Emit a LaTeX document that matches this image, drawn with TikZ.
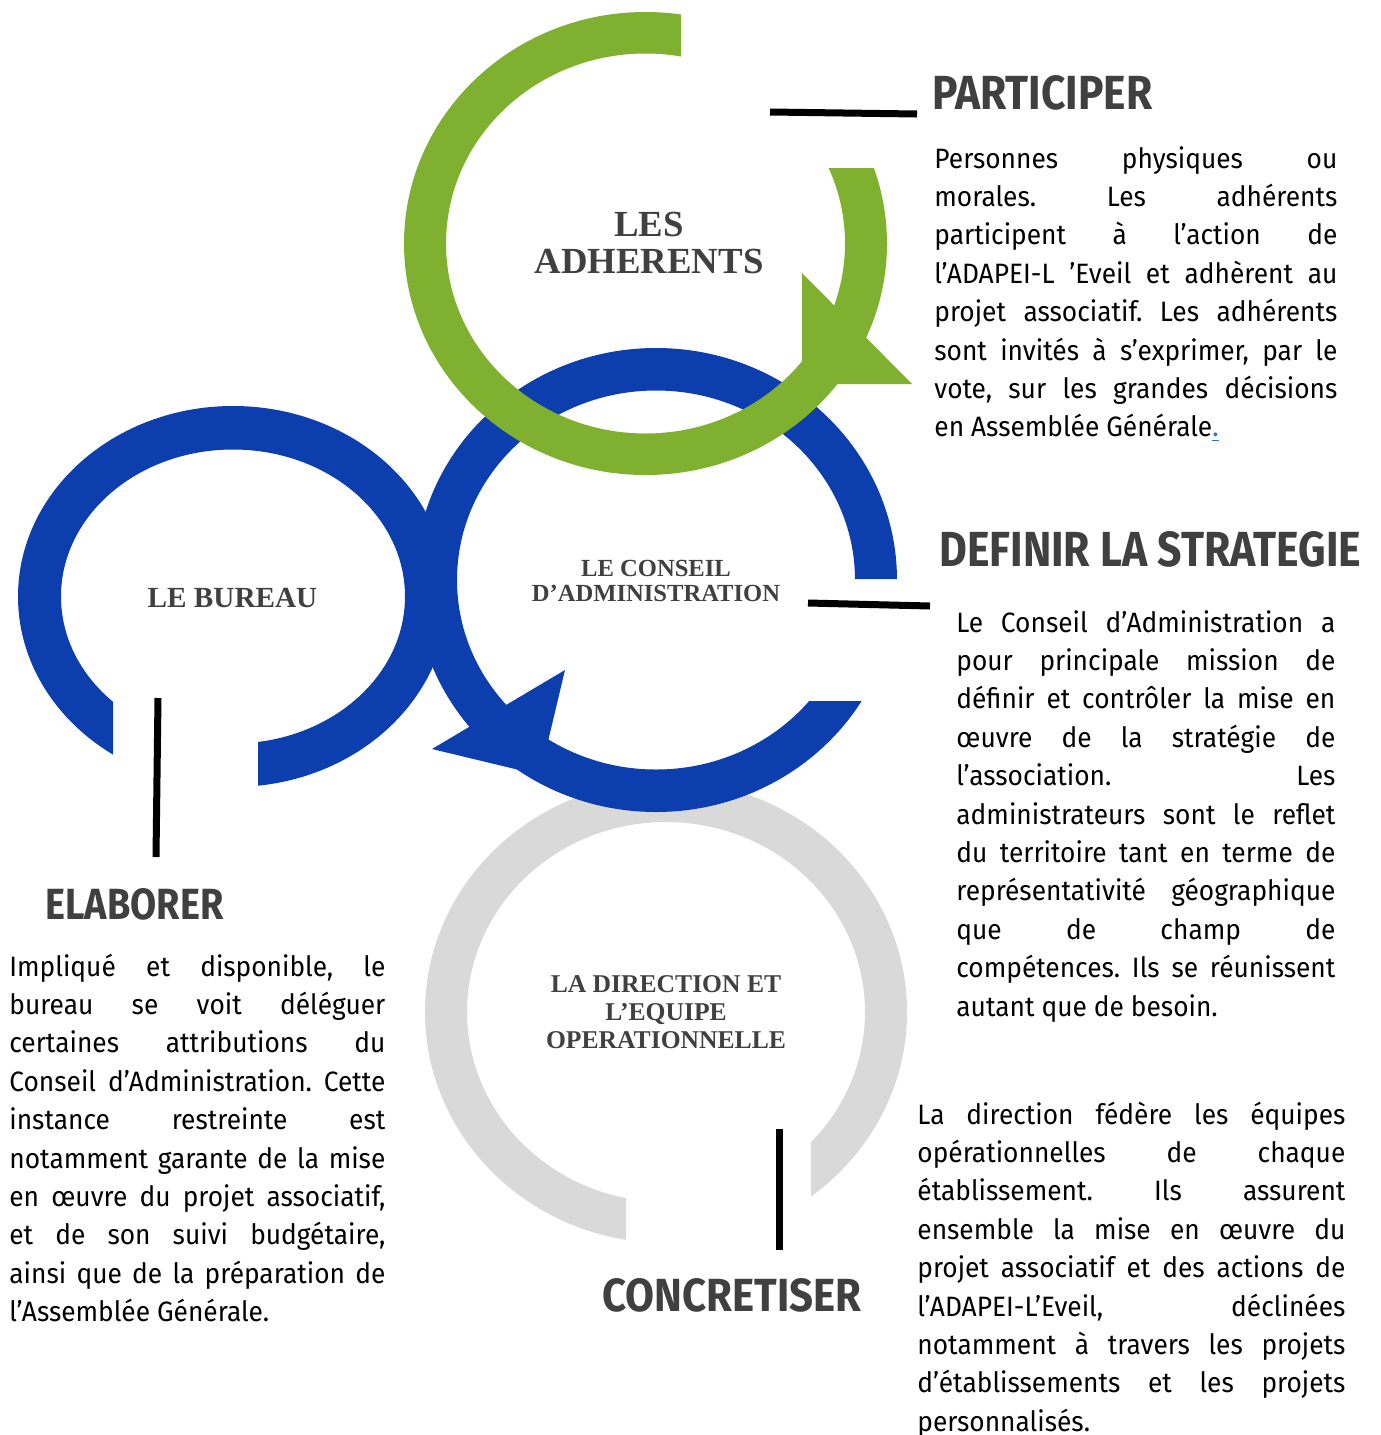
\documentclass[tikz,border=0pt]{standalone}
\usepackage{fontspec}
\usepackage{graphicx}
\setmainfont{Fira Sans}[FakeStretch=0.94]
\newfontfamily\labelfont{Liberation Serif}
\definecolor{ringgreen}{HTML}{80B030}
\definecolor{ringblue}{HTML}{0D3EAD}
\definecolor{ringgray}{HTML}{D9D9D9}
\definecolor{txtgray}{HTML}{404040}
\definecolor{linkblue}{HTML}{2E75D0}
\newcommand\labfont[2]{\labelfont\bfseries\fontsize{#1}{#2}\selectfont}
\newcommand\bodyfont{\fontsize{14}{19.2}\selectfont\frenchspacing\hyphenpenalty=10000\tolerance=10000\relax}
\begin{document}
\begin{tikzpicture}[x=0.5pt,y=-0.5pt,
  ringfill/.style={fill=#1, even odd rule},
  conn/.style={line width=3.5pt, black},
  head/.style={anchor=south west, inner sep=0pt, text=txtgray, font=\bfseries},
  body/.style={anchor=base west, inner sep=0pt, align=justify, font=\bodyfont, text width=#1},
  lab/.style={text=txtgray, align=center, inner sep=0pt}]
\useasboundingbox (0,0) rectangle (1381,1435);

% gray ring (direction)
\begin{scope}
  \clip (380,740) -- (940,740) -- (940,1280) -- (811,1280) -- (811,1100) -- (626,1100) -- (626,1280) -- (380,1280) -- cycle;
  \fill[ringfill=ringgray] (666,1012) ellipse [x radius=241, y radius=231] (666,1012) ellipse [x radius=199, y radius=190];
\end{scope}

% blue ring (bureau)
\begin{scope}
  \clip (0,390) -- (460,390) -- (460,800) -- (258,800) -- (258,650) -- (113,650) -- (113,800) -- (0,800) -- cycle;
  \fill[ringfill=ringblue] (233,596.5) ellipse [x radius=215, y radius=190.5] (233,596.5) ellipse [x radius=172, y radius=147];
\end{scope}

% blue ring (conseil d'administration)
\begin{scope}
  \clip (400,330) -- (920,330) -- (920,579) -- (760,579) -- (760,701) -- (920,701) -- (920,830) -- (400,830) -- cycle;
  \fill[ringfill=ringblue] (656,580) ellipse [x radius=241, y radius=232] (656,580) ellipse [x radius=199, y radius=189.5];
\end{scope}
\fill[ringblue] (565,670) -- (432,749) -- (540,775) -- cycle;

% green ring (adherents)
\begin{scope}
  \clip (380,-10) -- (681,-10) -- (681,168) -- (930,168) -- (930,500) -- (380,500) -- cycle;
  \fill[ringfill=ringgreen] (645.5,243.5) ellipse [x radius=241.5, y radius=231.5] (645.5,243.5) ellipse [x radius=199.5, y radius=190];
\end{scope}
\fill[ringgreen] (802,273) -- (912,384) -- (802,384) -- cycle;

% ring labels
\node[lab, font=\labfont{18.4}{18.5}] (adh) at (649,242.5) {LES\\ADHERENTS};
\node[lab, font=\labfont{14.6}{16}, anchor=base] (bur) at (232.5,607) {LE BUREAU};
\node[lab, font=\labfont{12.3}{12.5}] (ca) at (656,581) {LE CONSEIL\\D’ADMINISTRATION};
\node[lab, font=\labfont{12.8}{14}] (dir) at (666,1012) {LA DIRECTION ET\\L’EQUIPE\\OPERATIONNELLE};

% headings
\node[head] (hpart) at (932,111) {\resizebox{110pt}{17pt}{PARTICIPER}};
\node[head] (hdef) at (939,568) {\resizebox{211pt}{17.5pt}{DEFINIR LA STRATEGIE}};
\node[head] (helab) at (45,921) {\resizebox{89pt}{15.5pt}{ELABORER}};
\node[head] (hconc) at (602,1313) {\resizebox{129.5pt}{16.5pt}{CONCRETISER}};

% connectors
\coordinate (c1a) at (770,112); \coordinate (c1b) at (917,114);
\coordinate (c2a) at (808,603); \coordinate (c2b) at (930,606);
\coordinate (c3a) at (158,698); \coordinate (c3b) at (156,857);
\coordinate (c4a) at (779,1129); \coordinate (c4b) at (779,1250);
\draw[conn] (c1a) -- (c1b);
\draw[conn] (c2a) -- (c2b);
\draw[conn] (c3a) -- (c3b);
\draw[conn] (c4a) -- (c4b);

% body texts
\node[body=201.5pt] (tpart) at (934,168) {Personnes physiques ou\linebreak
morales. Les adhérents\linebreak
participent à l’action de\linebreak
l’ADAPEI-L ’Eveil et adhèrent au\linebreak
projet associatif. Les adhérents\linebreak
sont invités à s’exprimer, par le\linebreak
vote, sur les grandes décisions\linebreak
en Assemblée Générale\textcolor{linkblue}{\underline{.}}};

\node[body=189.5pt] (tdef) at (956,632) {Le Conseil d’Administration a\linebreak
pour principale mission de\linebreak
définir et contrôler la mise en\linebreak
œuvre de la stratégie de\linebreak
l’association. Les\linebreak
administrateurs sont le reflet\linebreak
du territoire tant en terme de\linebreak
représentativité géographique\linebreak
que de champ de\linebreak
compétences. Ils se réunissent\linebreak
autant que de besoin.};

\node[body=188pt] (telab) at (9,976) {Impliqué et disponible, le\linebreak
bureau se voit déléguer\linebreak
certaines attributions du\linebreak
Conseil d’Administration. Cette\linebreak
instance restreinte est\linebreak
notamment garante de la mise\linebreak
en œuvre du projet associatif,\linebreak
et de son suivi budgétaire,\linebreak
ainsi que de la préparation de\linebreak
l’Assemblée Générale.};

\node[body=214pt] (tdir) at (917,1124) {La direction fédère les équipes\linebreak
opérationnelles de chaque\linebreak
établissement. Ils assurent\linebreak
ensemble la mise en œuvre du\linebreak
projet associatif et des actions de\linebreak
l’ADAPEI-L’Eveil, déclinées\linebreak
notamment à travers les projets\linebreak
d’établissements et les projets\linebreak
personnalisés.};
\end{tikzpicture}
\end{document}
